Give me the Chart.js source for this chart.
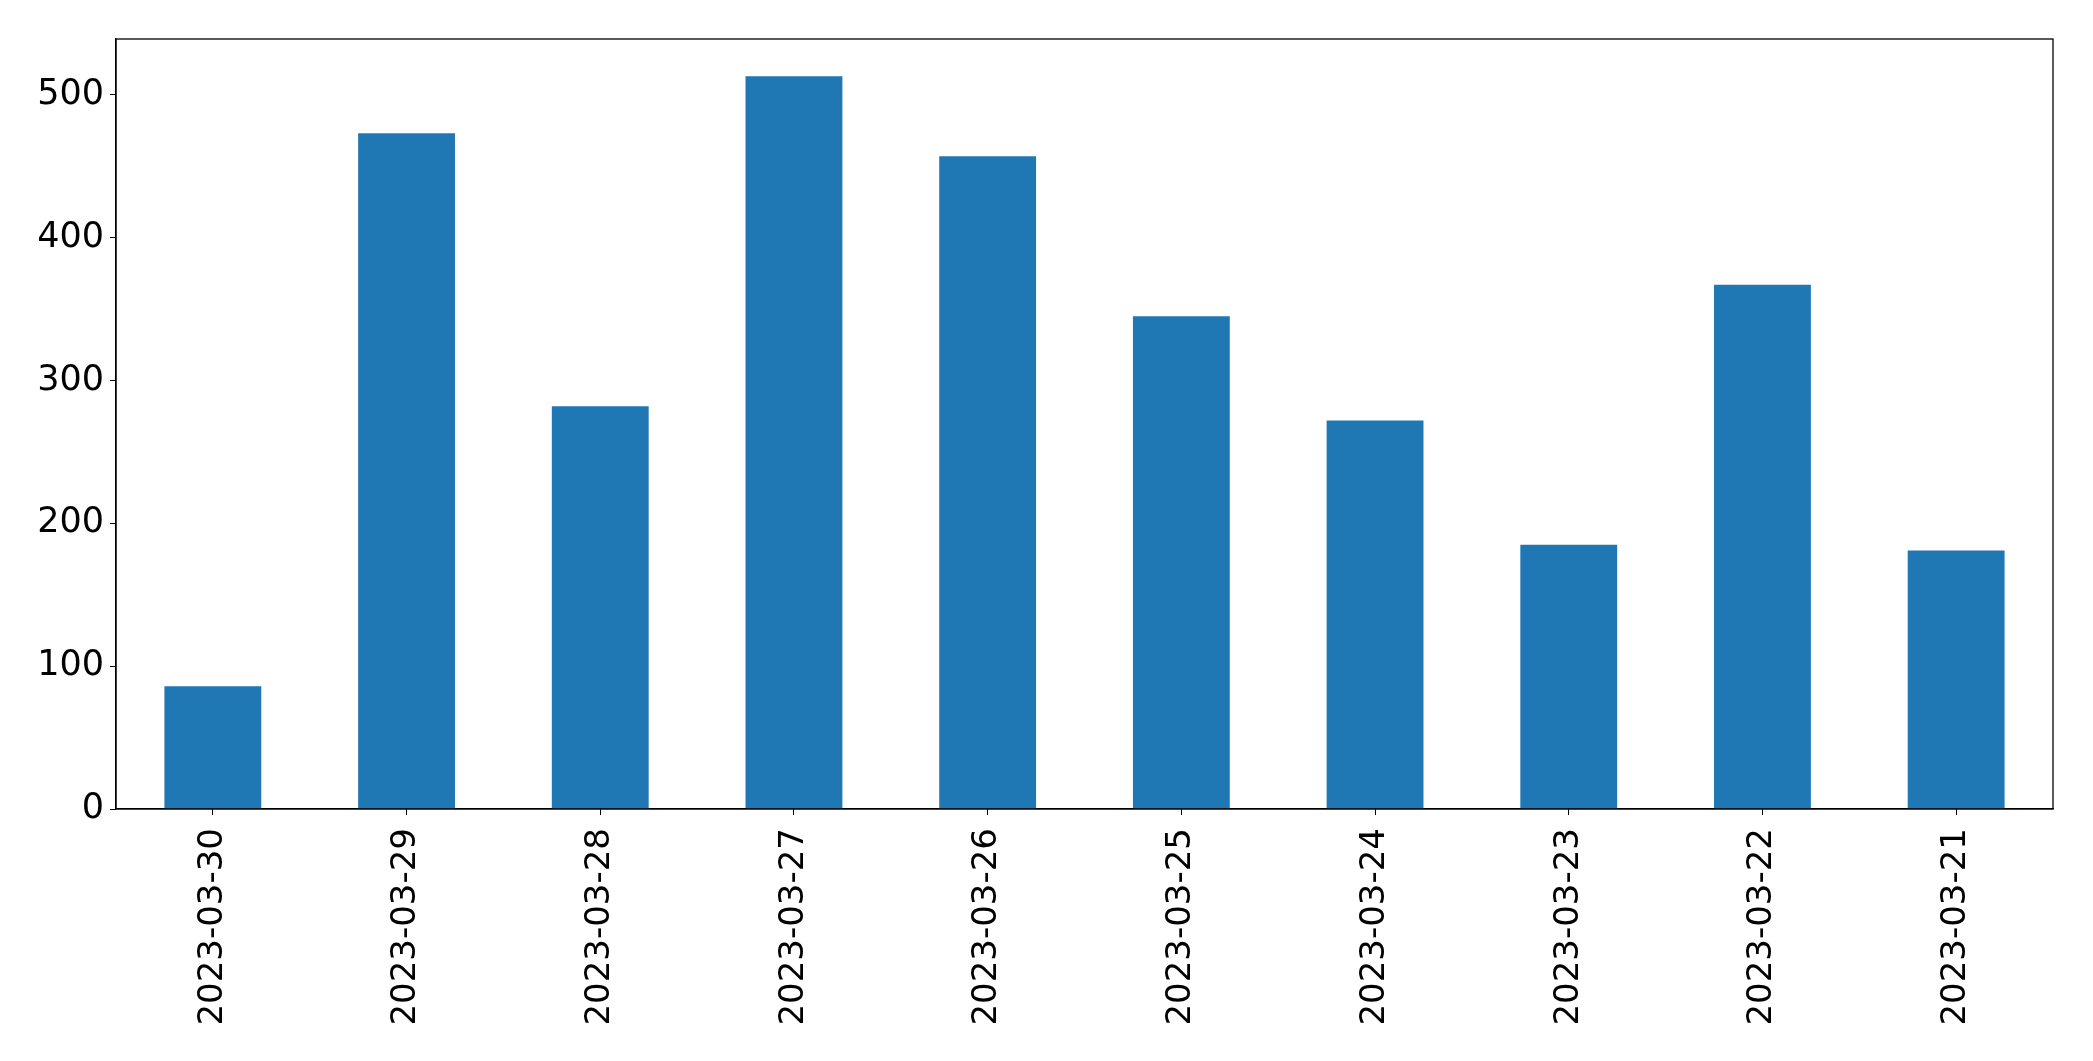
<!DOCTYPE html>
<html>
<head>
<meta charset="utf-8">
<script src="https://cdn.jsdelivr.net/npm/chart.js@4"></script>
<style>
  html, body { margin: 0; padding: 0; background: #fff; }
  #wrap { width: 2093px; height: 1061px; }
</style>
</head>
<body>
<div id="wrap"><canvas id="chart"></canvas></div>
<script>
const dates = ['2023-03-30', '2023-03-29', '2023-03-28', '2023-03-27', '2023-03-26',
  '2023-03-25', '2023-03-24', '2023-03-23', '2023-03-22', '2023-03-21'];
const counts = [86, 473, 282, 513, 457, 345, 272, 185, 367, 181];
const yTicks = [0, 100, 200, 300, 400, 500];

// frame round the plot area, like the matplotlib spines
const frame = {
  id: 'frame',
  afterDraw(chart) {
    const { ctx, chartArea: a } = chart;
    ctx.save();
    ctx.strokeStyle = '#000';
    ctx.lineWidth = 1.3;
    ctx.strokeRect(a.left, a.top, a.right - a.left, a.bottom - a.top);
    ctx.restore();
  },
};

const ctx = document.getElementById('chart').getContext('2d');
new Chart(ctx, {
  type: 'bar',
  data: {
    labels: dates,
    datasets: [{
      data: counts,
      backgroundColor: '#1f77b4',
      categoryPercentage: 1,
      barPercentage: 0.5,
    }],
  },
  options: {
    responsive: true,
    maintainAspectRatio: false,
    animation: false,
    layout: { padding: { top: 39, right: 40, left: 0, bottom: 0 } },
    plugins: { legend: { display: false }, tooltip: { enabled: false } },
    scales: {
      x: {
        offset: true,
        grid: { drawOnChartArea: false, color: '#000', tickLength: 6, offset: false },
        border: { color: '#000', width: 1.3 },
        ticks: {
          color: '#000',
          font: { family: 'DejaVu Sans', size: 34 },
          minRotation: 90,
          maxRotation: 90,
          padding: 13,
          autoSkip: false,
        },
        afterFit: (scale) => { scale.height = 252; },
      },
      y: {
        min: 0,
        max: 539,
        grid: { drawOnChartArea: false, color: '#000', tickLength: 6 },
        border: { color: '#000', width: 1.3 },
        ticks: {
          color: '#000',
          font: { family: 'DejaVu Sans', size: 35 },
          stepSize: 100,
          padding: 6,
        },
        afterBuildTicks: (scale) => {
          scale.ticks = yTicks.map((v) => ({ value: v }));
        },
        afterFit: (scale) => { scale.width = 116; },
      },
    },
  },
  plugins: [frame],
});
</script>
</body>
</html>
